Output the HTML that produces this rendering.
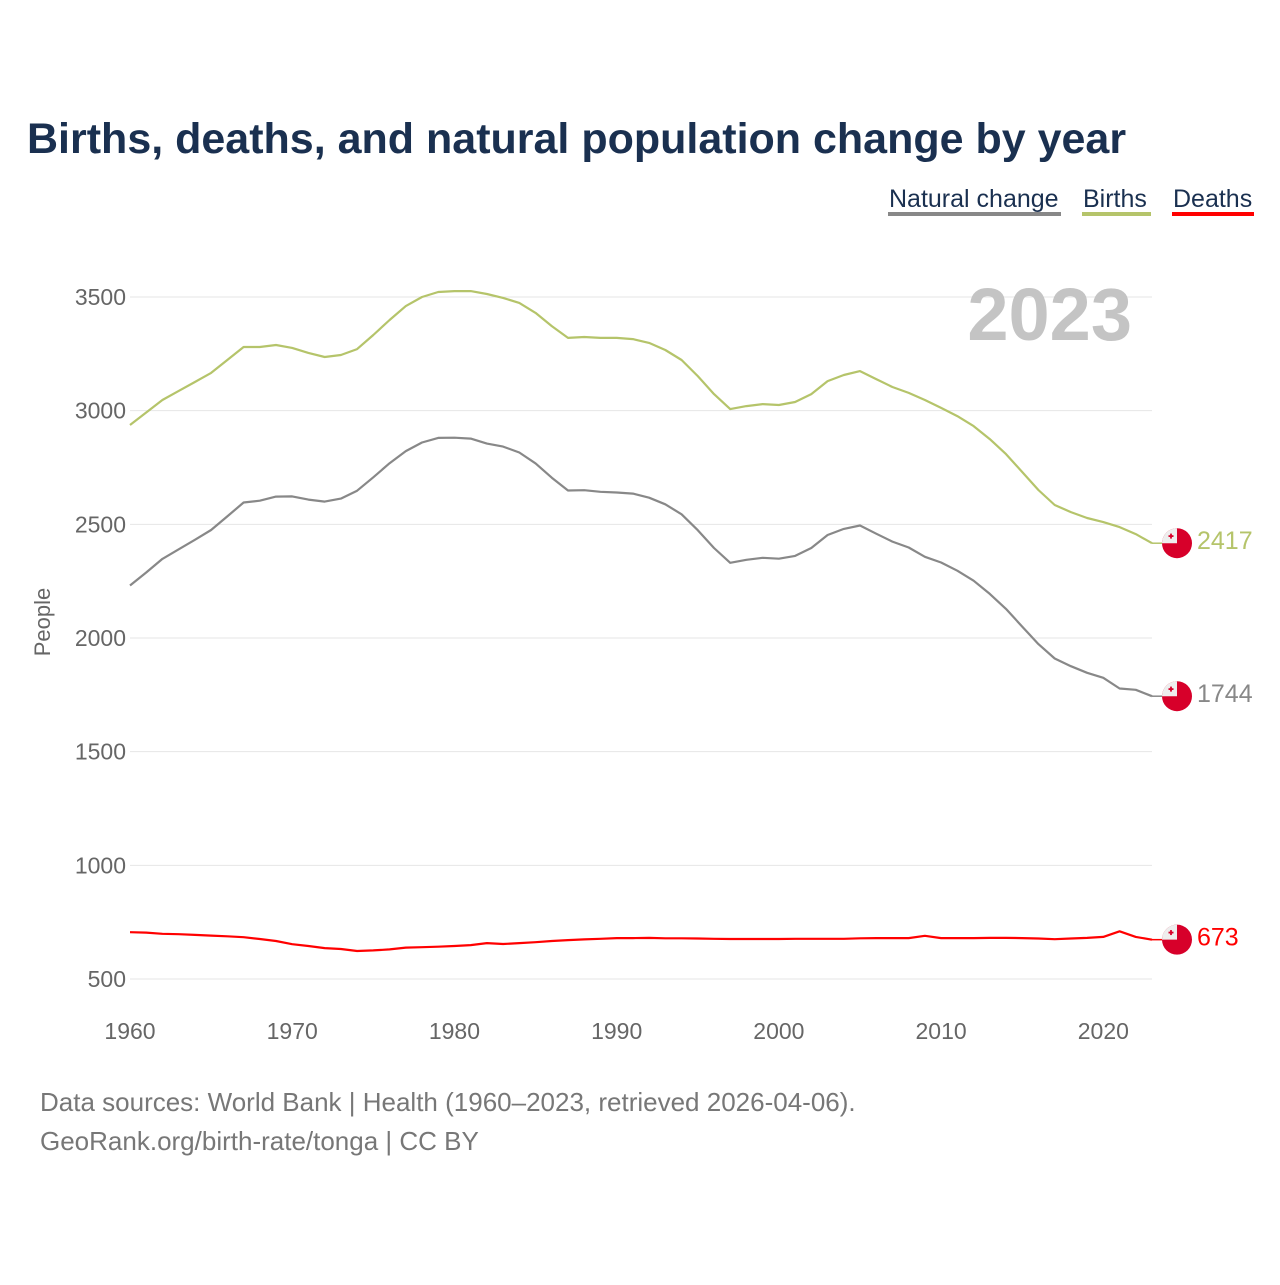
<!DOCTYPE html>
<html><head><meta charset="utf-8"><style>
body{margin:0;background:#fff;width:1280px;height:1280px;overflow:hidden;font-family:"Liberation Sans",sans-serif}
svg text{font-family:"Liberation Sans",sans-serif}
</style></head><body>
<svg id="chart" width="1280" height="1280" xmlns="http://www.w3.org/2000/svg">
<text x="27" y="153" font-size="43" font-weight="bold" fill="#1a3050">Births, deaths, and natural population change by year</text>
<g font-size="25" fill="#1a3050">
 <g><text x="889" y="207">Natural change</text><rect x="888" y="212" width="173" height="4" fill="#888"/></g>
 <g><text x="1083" y="207">Births</text><rect x="1082" y="212" width="69" height="4" fill="#b5c46a"/></g>
 <g><text x="1173" y="207">Deaths</text><rect x="1172" y="212" width="82" height="4" fill="#f00"/></g>
</g>
<g id="grid"></g>
<g id="yticks"></g>
<g id="xticks"></g>
<text transform="translate(50,622) rotate(-90)" text-anchor="middle" font-size="22" fill="#666">People</text>
<text x="1132" y="340" text-anchor="end" font-size="74" font-weight="bold" fill="#c4c4c4">2023</text>
<g id="series"></g>
<g font-size="26" fill="#777">
 <text x="40" y="1111">Data sources: World Bank | Health (1960–2023, retrieved 2026-04-06).</text>
 <text x="40" y="1150">GeoRank.org/birth-rate/tonga | CC BY</text>
</g>
</svg>
<script>
const years=[];for(let y=1960;y<=2023;y++)years.push(y);
const births=[2937,2992,3047,3087,3126,3166,3223,3280,3280,3289,
3276,3254,3236,3245,3271,3333,3399,3460,3500,3522,
3526,3526,3513,3496,3474,3430,3372,3320,3324,3320,
3320,3315,3298,3267,3223,3152,3073,3007,3020,3029,
3025,3038,3073,3130,3157,3174,3139,3104,3078,3047,
3012,2976,2932,2875,2809,2730,2651,2585,2554,2528,
2510,2488,2457,2417];
const deaths=[706,704,699,697,694,691,688,684,676,667,
653,645,636,632,623,626,630,638,640,642,
645,649,658,654,658,662,667,671,674,677,
680,680,681,679,679,678,677,676,676,676,
676,677,677,677,677,679,680,680,680,690,
680,680,680,681,681,680,678,675,678,681,
685,710,685,673];
const natural=[2231,2288,2348,2390,2432,2475,2535,2596,2604,2622,
2623,2609,2600,2613,2648,2707,2769,2822,2860,2880,
2881,2877,2855,2842,2816,2768,2705,2649,2650,2643,
2640,2635,2617,2588,2544,2474,2396,2331,2344,2353,
2349,2361,2396,2453,2480,2495,2459,2424,2398,2357,
2332,2296,2252,2194,2128,2050,1973,1910,1876,1847,
1825,1778,1772,1744];
const yTicks=[500,1000,1500,2000,2500,3000,3500];
const xTicks=[1960,1970,1980,1990,2000,2010,2020];
const NS="http://www.w3.org/2000/svg";
const X0=130,X1=1152,Y500=979,Y3500=297;
const xS=y=>X0+(y-1960)*(X1-X0)/(2023-1960);
const yS=v=>Y500+(v-500)*(Y3500-Y500)/3000;
function mk(tag,attrs,parent){const e=document.createElementNS(NS,tag);for(const k in attrs)e.setAttribute(k,attrs[k]);parent.appendChild(e);return e;}
const grid=document.getElementById('grid'),yt=document.getElementById('yticks'),xt=document.getElementById('xticks'),ser=document.getElementById('series');
yTicks.forEach(v=>{
 const l=mk('line',{x1:X0,x2:X1,y1:yS(v),y2:yS(v),stroke:'#e6e6e6','stroke-width':1},grid);
 
 
 const t=mk('text',{x:126,y:yS(v)+8,'text-anchor':'end','font-size':23,fill:'#666'},yt);
 t.textContent=v;
 
 
});
xTicks.forEach(v=>{
 const t=mk('text',{x:xS(v),y:1039,'text-anchor':'middle','font-size':23,fill:'#666'},xt);
 t.textContent=v;
 
 
});
function drawSeries(vals,color,name,labelColor){
 const d=vals.map((v,i)=>(i?'L':'M')+xS(years[i]).toFixed(1)+','+yS(v).toFixed(1)).join('');
 const p=mk('path',{d:d,fill:'none',stroke:color,'stroke-width':2.2,'stroke-linejoin':'round'},ser);
 
 
 const last=vals[vals.length-1],cy=yS(last),cx=1177;
 mk('line',{x1:X1,x2:cx-14,y1:cy,y2:cy,stroke:color,'stroke-width':1.5},ser);
 const g=mk('g',{},ser);
 
 
 mk('circle',{cx:cx,cy:cy,r:15,fill:'#d7002a'},g);
 mk('path',{d:`M${cx-15},${cy} A15,15 0 0 1 ${cx},${cy-15} L${cx},${cy} Z`,fill:'#eee'},g);
 mk('rect',{x:cx-8.5,y:cy-8,width:5,height:1.8,fill:'#d7002a'},g);
 mk('rect',{x:cx-6.9,y:cy-9.6,width:1.8,height:5,fill:'#d7002a'},g);
 const t=mk('text',{x:1197,y:cy+6,'font-size':25,fill:labelColor},ser);
 t.textContent=last;
 
 
}
drawSeries(births,'#b5c46a','births','#b5c46a');
drawSeries(natural,'#888888','natural-change','#888');
drawSeries(deaths,'#ff0000','deaths','#f00');
</script>
</body></html>
